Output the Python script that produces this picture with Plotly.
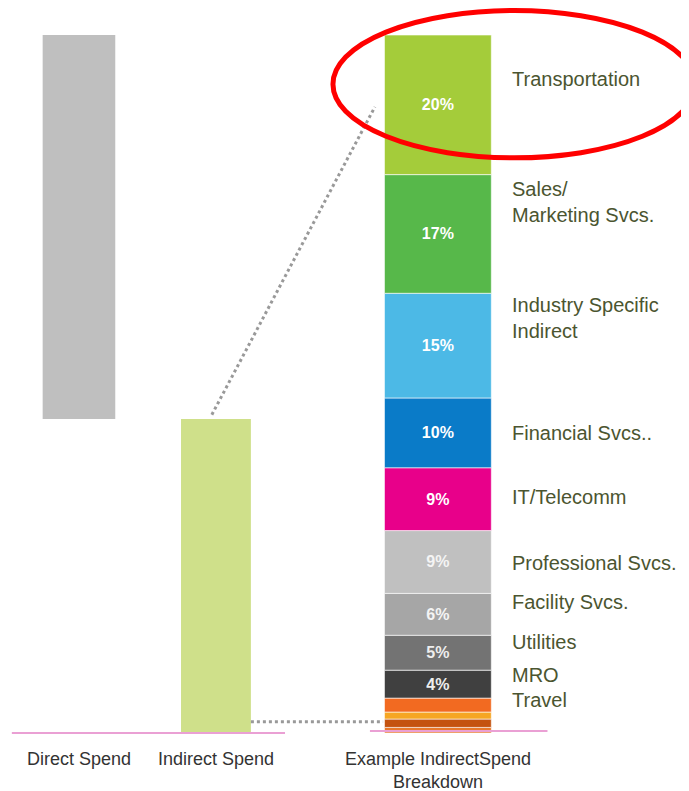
import plotly.graph_objects as go

# ---------------- data ----------------
spend_categories = ["Direct Spend", "Indirect Spend"]
spend_values = [55, 45]  # share of total spend (%)

breakdown_label = "Example IndirectSpend<br>Breakdown"
segment_names = ["Travel c", "Travel b", "Travel a", "Travel",
                 "MRO", "Utilities", "Facility Svcs.", "Professional Svcs.",
                 "IT/Telecomm", "Financial Svcs..", "Industry Specific Indirect",
                 "Sales/Marketing Svcs.", "Transportation"]
segment_values = [0.8, 1.2, 1.0, 2.0, 4, 5, 6, 9, 9, 10, 15, 17, 20]
segment_text = ["", "", "", "", "4%", "5%", "6%", "9%", "9%", "10%", "15%", "17%", "20%"]

right_labels = ["Transportation", "Sales/<br>Marketing Svcs.", "Industry Specific<br>Indirect",
                "Financial Svcs..", "IT/Telecomm", "Professional Svcs.", "Facility Svcs.",
                "Utilities", "MRO", "Travel"]

# ---------------- styles / layout ----------------
spend_colors = ["#bfbfbf", "#cfe08a"]
segment_colors = ["#e8782a", "#c4520f", "#f6a623", "#f26a21",
                  "#404040", "#737373", "#a6a6a6", "#c0c0c0",
                  "#e8008a", "#0a7bc8", "#4cb9e6", "#57b84a", "#a4cc3a"]
segment_textcolors = ["white"] * 4 + ["#eeeeee", "#eeeeee", "#f4f4f4", "#f4f4f4"] + ["white"] * 5

x_pos = [0.0, 1.0, 2.62]
bar_widths = [0.53, 0.51, 0.78]
label_y = [93.7, 76.1, 59.5, 43.0, 33.8, 24.4, 18.8, 13.0, 8.3, 4.7]
label_x = 3.146
FONT = "Liberation Sans, Arial, sans-serif"
TEXT_COL = "#4b5530"

fig = go.Figure()

# Direct spend floats on top of indirect spend
fig.add_trace(go.Bar(
    x=[x_pos[0]], y=[spend_values[0]], base=[spend_values[1]], width=[bar_widths[0]],
    marker=dict(color=spend_colors[0], line=dict(width=0)), hoverinfo="skip"))
fig.add_trace(go.Bar(
    x=[x_pos[1]], y=[spend_values[1]], base=[0], width=[bar_widths[1]],
    marker=dict(color=spend_colors[1], line=dict(width=0)), hoverinfo="skip"))

# Stacked breakdown
cum = 0
for name, v, t, c, tc in zip(segment_names, segment_values, segment_text, segment_colors, segment_textcolors):
    fig.add_trace(go.Bar(
        x=[x_pos[2]], y=[v], base=[cum], width=[bar_widths[2]], name=name,
        marker=dict(color=c, line=dict(color="rgba(255,255,255,0.6)", width=1)),
        text=[t], textposition="inside", insidetextanchor="middle", textangle=0,
        textfont=dict(color=tc, size=16, family="Liberation Sans, Arial", weight="bold"),
        hoverinfo="skip"))
    cum += v

# Right-hand labels
for txt, yy in zip(right_labels, label_y):
    fig.add_annotation(x=label_x, y=yy, text=txt, showarrow=False, xanchor="left",
                       yanchor="middle", align="left",
                       font=dict(family=FONT, size=20, color=TEXT_COL))

# Category labels under bars
for xx, txt in zip(x_pos, spend_categories + [breakdown_label]):
    fig.add_annotation(x=xx, y=0, text=txt, showarrow=False, xanchor="center", yanchor="top",
                       yshift=-14, align="center",
                       font=dict(family=FONT, size=18, color="#333333"))

# Baselines (pink)
fig.add_shape(type="line", x0=-0.49, x1=1.504, y0=0, y1=0, line=dict(color="#eaa0d4", width=2))
fig.add_shape(type="line", x0=2.124, x1=3.42, y0=0.3, y1=0.3, line=dict(color="#eaa0d4", width=2))

# Dotted connector lines
fig.add_shape(type="line", x0=0.97, y0=spend_values[1] + 0.6, x1=2.16, y1=89.7,
              line=dict(color="#999999", width=3, dash="dot"))
fig.add_shape(type="line", x0=1.0 + bar_widths[1] / 2, y0=1.6, x1=2.22, y1=1.6,
              line=dict(color="#999999", width=3, dash="dot"))

# Red highlight ellipse
fig.add_shape(type="circle", x0=1.854, x1=4.5, y0=82.4, y1=103.5,
              line=dict(color="#ff0000", width=5))

# page body has an 8px default margin, so the figure is 8px smaller on each axis
fig.update_layout(
    width=681, height=783, margin=dict(l=0, r=0, t=0, b=0),
    paper_bgcolor="white", plot_bgcolor="white",
    showlegend=False, barmode="overlay", hovermode=False,
    xaxis=dict(range=[-0.518, 4.453], visible=False, fixedrange=True),
    yaxis=dict(range=[-8.31, 103.87], visible=False, fixedrange=True),
)

fig.write_html("out.html")
